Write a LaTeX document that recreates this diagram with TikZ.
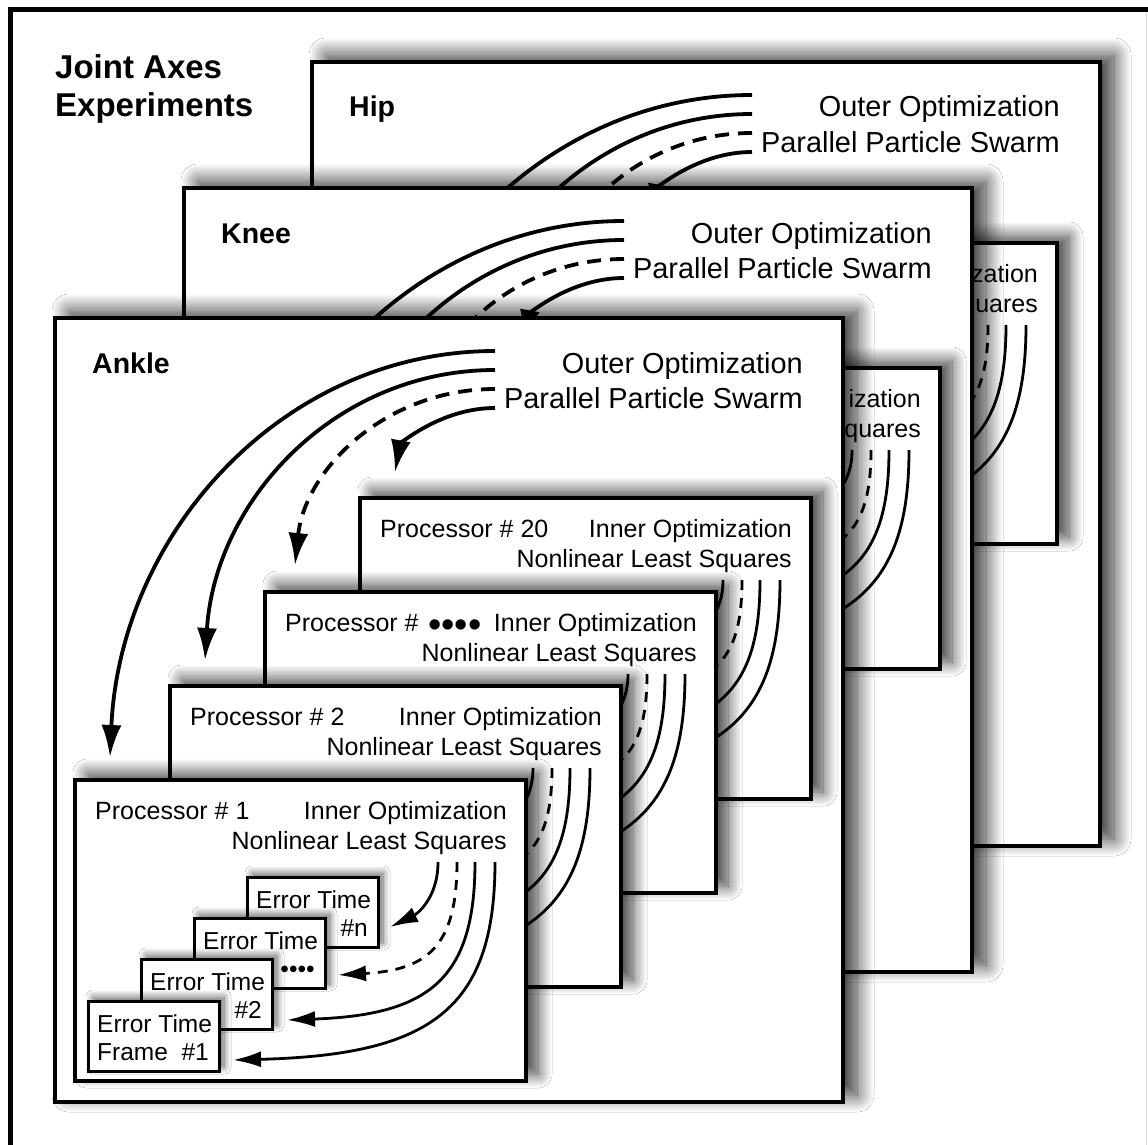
\documentclass[tikz,border=0pt]{standalone}
\usepackage{fontspec}
\setmainfont{Liberation Sans}
\usetikzlibrary{arrows.meta,shadows.blur,calc}
\tikzset{
  pshadow/.style={blur shadow={shadow xshift=14pt, shadow yshift=7pt, shadow blur radius=17pt, shadow blur steps=20, shadow opacity=80}},
  sshadow/.style={blur shadow={shadow xshift=12pt, shadow yshift=7pt, shadow blur radius=14pt, shadow blur steps=18, shadow opacity=75}},
  fshadow/.style={blur shadow={shadow xshift=5pt, shadow yshift=4pt, shadow blur radius=7pt, shadow blur steps=10, shadow opacity=60}},
  panelbox/.style={draw=black, line width=4pt, fill=white, minimum width=788pt, minimum height=784pt, anchor=north west, inner sep=0pt, outer sep=0pt, pshadow},
  procbox/.style={draw=black, line width=4pt, fill=white, minimum width=451pt, minimum height=301pt, anchor=north west, inner sep=0pt, outer sep=0pt, sshadow},
  errbox/.style={draw=black, line width=3pt, fill=white, minimum width=131pt, minimum height=70pt, anchor=north west, inner sep=0pt, outer sep=0pt, fshadow},
  titletxt/.style={font=\fontsize{33}{39}\selectfont\bfseries, inner sep=0pt, anchor=base west},
  lbltxt/.style={font=\fontsize{28.5}{34}\selectfont\bfseries, inner sep=0pt, anchor=base west},
  bigtxt/.style={font=\fontsize{28.9}{34}\selectfont, inner sep=0pt, anchor=base east},
  smtxtl/.style={font=\fontsize{25}{30}\selectfont, inner sep=0pt, anchor=base west},
  smtxtr/.style={font=\fontsize{25}{30}\selectfont, inner sep=0pt, anchor=base east},
  errtxtl/.style={font=\fontsize{24.5}{30}\selectfont, inner sep=0pt, anchor=base west},
  errtxtr/.style={font=\fontsize{24.5}{30}\selectfont, inner sep=0pt, anchor=base east},
  bigdots/.style={font=\fontsize{38}{40}\selectfont, inner sep=0pt, anchor=base},
  outerarc/.style={line width=3.8pt, -{Latex[length=32pt,width=20pt]}},
  innerarc/.style={line width=2.8pt, -{Latex[length=28pt,width=16pt]}},
  hiddenarc/.style={line width=2.8pt},
  dsh/.style={dash pattern=on 14pt off 9pt},
  dshs/.style={dash pattern=on 10pt off 8pt},
  framerule/.style={line width=5pt},
}
% panel: name, x, y, label
\newcommand\MyPanel[4]{%
  \node[panelbox] (#1) at (#2,#3) {};
  \begin{scope}[shift={(#2,#3)}]
    \node[lbltxt] (#1-lbl) at (37,55) {#4};
    \node[bigtxt] (#1-o1) at (748,55) {Outer Optimization};
    \node[bigtxt] (#1-o2) at (748,90) {Parallel Particle Swarm};
    \coordinate (#1-s1) at (440,33);
    \coordinate (#1-s2) at (440,52);
    \coordinate (#1-s3) at (440,71);
    \coordinate (#1-s4) at (440,90);
    \coordinate (#1-e1) at (55,439);
    \coordinate (#1-e2) at (150,342);
    \coordinate (#1-e3) at (240,247);
    \coordinate (#1-e4) at (340,154);
    \draw[outerarc] (#1-s1) .. controls (228,33) and (65,215) .. (#1-e1);
    \draw[outerarc] (#1-s2) .. controls (280,52) and (160,182) .. (#1-e2);
    \draw[outerarc,dsh] (#1-s3) .. controls (330,71) and (250,152) .. (#1-e3);
    \draw[outerarc] (#1-s4) .. controls (385,90) and (345,127) .. (#1-e4);
  \end{scope}
}
% processor box: name, x, y, label
\newcommand\MyProcBox[4]{%
  \node[procbox] (#1) at (#2,#3) {};
  \begin{scope}[shift={(#2,#3)}]
    \node[smtxtl] (#1-n) at (20,39) {#4};
    \node[smtxtr] (#1-i1) at (432,39) {Inner Optimization};
    \node[smtxtr] (#1-i2) at (432,69) {Nonlinear Least Squares};
  \end{scope}
}
% partly hidden processor box: name, x, y, visible part of line 1, of line 2
\newcommand\MyProcPart[5]{%
  \node[procbox] (#1) at (#2,#3) {};
  \begin{scope}[shift={(#2,#3)}]
    \node[smtxtr] (#1-i1) at (432,39) {#4};
    \node[smtxtr] (#1-i2) at (432,69) {#5};
  \end{scope}
}
% processor arcs: name, x, y, style
\newcommand\MyProcArcs[4]{%
  \begin{scope}[shift={(#2,#3)}]
    \coordinate (#1-s1) at (363,82);
    \coordinate (#1-s2) at (382,82);
    \coordinate (#1-s3) at (400,82);
    \coordinate (#1-s4) at (420,82);
    \coordinate (#1-e1) at (315,147);
    \coordinate (#1-e2) at (263,195);
    \coordinate (#1-e3) at (212,240);
    \coordinate (#1-e4) at (158,280);
    \draw[#4] (#1-s1) .. controls (363,120) and (340,135) .. (#1-e1);
    \draw[#4,dshs] (#1-s2) .. controls (382,167) and (352,190) .. (#1-e2);
    \draw[#4] (#1-s3) .. controls (400,200) and (353,235) .. (#1-e3);
    \draw[#4] (#1-s4) .. controls (420,230) and (355,275) .. (#1-e4);
  \end{scope}
}
% error frame: name, x, y, line1, line2 (right), line2 (left)
\newcommand\MyErr[6]{%
  \node[errbox] (#1) at (#2,#3) {};
  \node[errtxtl] (#1-a) at ($(#1.north west)+(9,31)$) {#4};
  \node[errtxtr] (#1-b) at ($(#1.north west)+(121,59)$) {#5};
  \node[errtxtl] (#1-c) at ($(#1.north west)+(9,59)$) {#6};
}
\begin{document}
\begin{tikzpicture}[x=1pt,y=-1pt]
  \useasboundingbox (0,0) rectangle (1148,1145);
  \fill[white] (0,0) rectangle (1148,1145);
  \draw[framerule] (10,1150) -- (10,10) -- (1150,10);
  \draw[gray!25, line width=1pt] (1146.5,12) -- (1146.5,1145);
  \node[titletxt] (t1) at (55,79) {Joint Axes};
  \node[titletxt] (t2) at (55,117) {Experiments};

  % Hip
  \MyPanel{hip}{312}{62}{Hip}
  \MyProcPart{hp}{606}{243}{zation}{uares}
  \MyProcArcs{hp}{606}{243}{hiddenarc}

  % Knee
  \MyPanel{knee}{184}{188}{Knee}
  \MyProcPart{kp}{489}{368}{ization}{quares}
  \MyProcArcs{kp}{489}{368}{hiddenarc}

  % Ankle
  \MyPanel{ankle}{55}{318}{Ankle}
  \MyProcBox{ap20}{360}{498}{Processor \# 20}
  \MyProcArcs{ap20}{360}{498}{hiddenarc}
  \MyProcBox{apd}{265}{592}{Processor \#}
  \node[bigdots] (apd-dots) at (455,637) {••••};
  \MyProcArcs{apd}{265}{592}{hiddenarc}
  \MyProcBox{ap2}{170}{686}{Processor \# 2}
  \MyProcArcs{ap2}{170}{686}{hiddenarc}
  \MyProcBox{ap1}{75}{780}{Processor \# 1}

  % error frames
  \MyErr{en}{247}{877}{Error Time}{\#n}{}
  \MyErr{ed}{194}{918}{Error Time}{••••}{}
  \MyErr{e2}{141}{959}{Error Time}{\#2}{}
  \MyErr{e1}{88}{1001}{Error Time}{}{Frame\ \ \#1}
  \MyProcArcs{ap1}{75}{780}{innerarc}
\end{tikzpicture}
\end{document}
